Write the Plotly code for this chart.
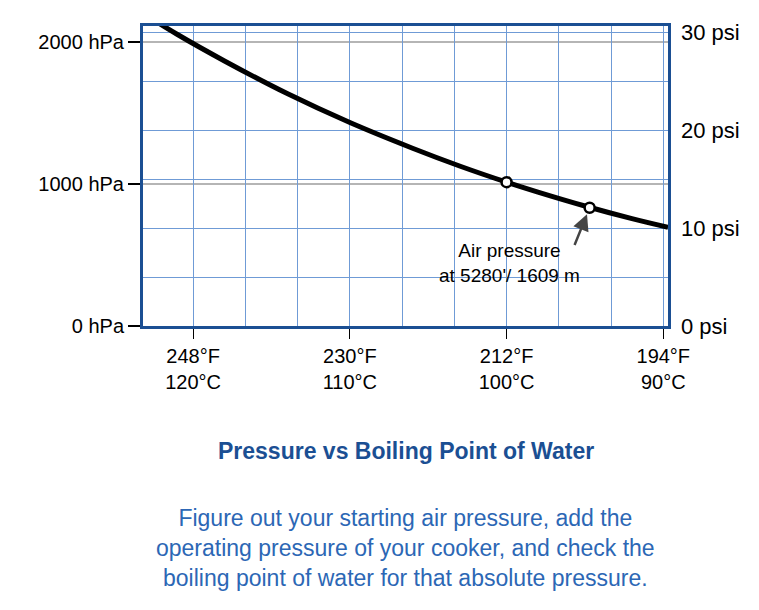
import plotly.graph_objects as go

# boiling point of water (deg C) vs vapour pressure (hPa)
temp_c = [89.7, 92, 95, 98, 100, 103, 106, 110, 114, 118, 121, 123.3]
pressure_hpa = [695, 756, 845, 943, 1013, 1127, 1252, 1433, 1637, 1867, 2053, 2210]

marker_c = [100, 94.7]
marker_hpa = [1013, 833]

tick_c = [120, 110, 100, 90]
tick_text = ["248°F<br>120°C", "230°F<br>110°C", "212°F<br>100°C", "194°F<br>90°C"]
grid_c = [(f - 32) / 1.8 for f in range(194, 256, 6)]

hpa_ticks = [0, 1000, 2000]
hpa_text = ["0 hPa", "1000 hPa", "2000 hPa"]
psi_ticks = [0, 5, 10, 15, 20, 25, 30]
psi_text = ["0 psi", "", "10 psi", "", "20 psi", "", "30 psi"]

blue = "#1b4f93"
grid_blue = "#6f9bd6"
font = "Liberation Sans"
xr = [123.2, 89.7]
yr = [0, 2113]
psi_r = [0, 2113 / 68.948]

fig = go.Figure()
fig.add_trace(go.Scatter(x=temp_c, y=pressure_hpa, mode="lines", line=dict(color="black", width=5),
                         line_shape="spline", hoverinfo="skip"))
fig.add_trace(go.Scatter(x=marker_c, y=marker_hpa, mode="markers",
                         marker=dict(size=10, color="white", line=dict(color="black", width=2.5))))
# psi grid + labels on an overlaying axis
fig.add_trace(go.Scatter(x=[None], y=[None], yaxis="y2", xaxis="x2"))

fig.update_layout(
    width=759, height=610, showlegend=False,
    plot_bgcolor="white", paper_bgcolor="white",
    margin=dict(l=135, r=99, t=18, b=292),
    font=dict(family=font, color="black", size=20),
    xaxis=dict(range=xr, tickvals=tick_c, ticktext=tick_text, showgrid=False, ticks="outside",
               ticklen=10, tickcolor="black", showline=True, linecolor=blue, linewidth=3, mirror=True,
               zeroline=False),
    xaxis2=dict(range=xr, overlaying="x", tickvals=grid_c, showticklabels=False, showgrid=True,
                gridcolor=grid_blue, gridwidth=1, zeroline=False),
    yaxis=dict(range=yr, tickvals=hpa_ticks, ticktext=hpa_text, showgrid=True, gridcolor="#b5b5b5",
               gridwidth=2, ticks="outside", ticklen=12, tickcolor="black", tickwidth=2,
               showline=True, linecolor=blue, linewidth=3, mirror=True, zeroline=False),
    yaxis2=dict(range=psi_r, overlaying="y", side="right", tickmode="array", tickvals=psi_ticks,
                ticktext=psi_text, showgrid=True, gridcolor=grid_blue, gridwidth=1, zeroline=False,
                tickfont=dict(size=22), ticklabelstandoff=12),
)

fig.add_annotation(x=94.7, y=833, ax=95.7, ay=560, axref="x", ayref="y", text="",
                   showarrow=True, arrowhead=2, arrowsize=1.3, arrowwidth=2.5, arrowcolor="#444",
                   standoff=7)
fig.add_annotation(x=99.8, y=445, xref="x", yref="y", text="Air pressure<br>at 5280'/ 1609 m",
                   showarrow=False, font=dict(size=19), align="center")

fig.add_annotation(x=0.5, y=(318 - 443) / 300, xref="paper", yref="paper", yanchor="middle",
                   text="<b>Pressure vs Boiling Point of Water</b>", showarrow=False,
                   font=dict(size=23, color=blue))
fig.add_annotation(x=0.5, y=(318 - 540) / 300, xref="paper", yref="paper", yanchor="middle",
                   text="Figure out your starting air pressure, add the<br>"
                        "operating pressure of your cooker, and check the<br>"
                        "boiling point of water for that absolute pressure.",
                   showarrow=False, font=dict(size=23, color="#2c67b5"), align="center")
fig.update_annotations(selector=dict(xref="paper"), xanchor="center")

fig.write_html("out.html")
